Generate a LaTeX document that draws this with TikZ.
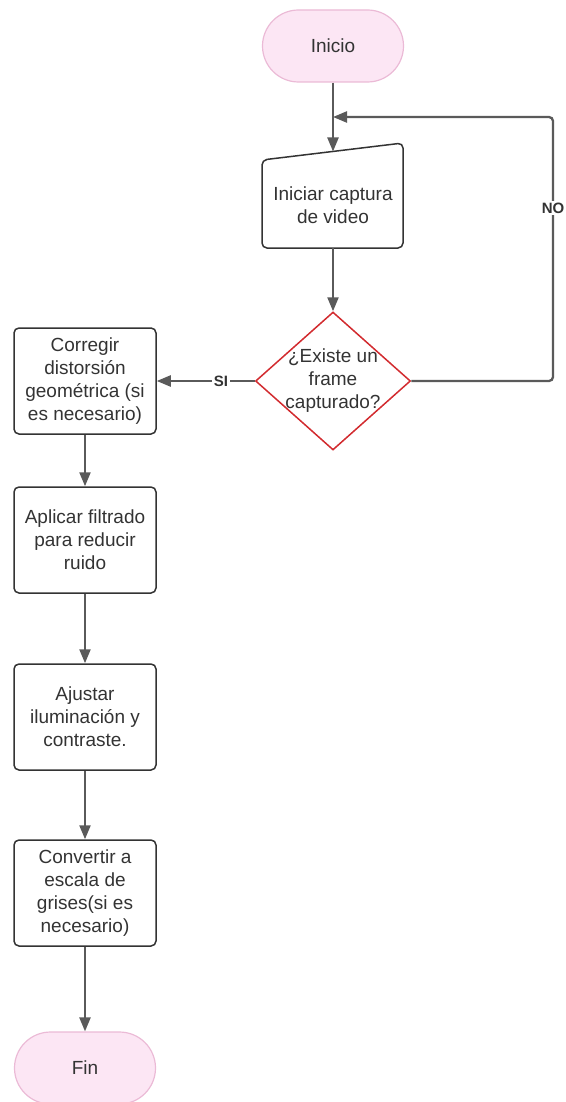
\documentclass[tikz,border=0pt]{standalone}
\usepackage{fontspec}
\setmainfont{Liberation Sans}
\usetikzlibrary{shapes.geometric,arrows.meta}
\definecolor{txtgray}{HTML}{333333}
\definecolor{linegray}{HTML}{5A5A5A}
\definecolor{termfill}{HTML}{FCE6F4}
\definecolor{termedge}{HTML}{EBBAD6}
\definecolor{decred}{HTML}{D22B2F}
\tikzset{
  every node/.style={text=txtgray, font=\fontsize{19}{23}\selectfont},
  terminal/.style={rectangle, rounded corners=36pt, fill=termfill, draw=termedge,
    line width=1.2pt, minimum width=141pt, minimum height=72pt, inner sep=0pt},
  process/.style={rectangle, rounded corners=5pt, draw=txtgray, line width=1.5pt,
    minimum width=142pt, minimum height=106pt, align=center, inner sep=0pt},
  decision/.style={diamond, draw=decred, line width=1.5pt, fill=white,
    minimum width=155pt, minimum height=138pt, inner sep=0pt},
  plain/.style={align=center, inner sep=0pt},
  conn/.style={draw=linegray, line width=2.3pt, -{Triangle[length=14pt,width=11pt]}},
  lbl/.style={font=\bfseries\fontsize{15}{18}\selectfont, fill=white, inner sep=1.5pt}
}
\begin{document}
\begin{tikzpicture}[x=1pt,y=-1pt]
  \useasboundingbox (0,0) rectangle (565,1102);

  % start terminal
  \node[terminal] (ini) at (333,46) {Inicio};

  % manual input shape (sloped top edge)
  \coordinate (tl) at (262,160);
  \coordinate (tr) at (403,143);
  \coordinate (br) at (403,248);
  \coordinate (bl) at (262,248);
  \coordinate (inptop) at (333,151.5);
  \coordinate (inpbot) at (333,248);
  \draw[draw=txtgray, line width=1.5pt, fill=white, rounded corners=5pt]
    (tl) -- (tr) -- (br) -- (bl) -- cycle;
  \node[plain] (inp) at (333,205) {Iniciar captura\\de video};

  % decision
  \node[decision] (dec) at (333,381) {};
  \node[plain] (dectxt) at (333,381) {¿Existe un\\frame\\capturado?};

  % processing steps
  \node[process] (corr) at (85,381) {Corregir\\distorsión\\geométrica (si\\es necesario)};
  \node[process] (filt) at (85,540) {Aplicar filtrado\\para reducir\\ruido};
  \node[process] (ilum) at (85,717) {Ajustar\\iluminación y\\contraste.};
  \node[process] (gris) at (85,893) {Convertir a\\escala de\\grises(si es\\necesario)};

  % end terminal
  \node[terminal] (fin) at (85,1068) {Fin};

  % main flow
  \coordinate (merge) at (333,117);
  \draw[conn] (ini.south) -- (inptop);
  \draw[conn] (inpbot) -- (dec.north);

  % NO loop back to the capture step
  \coordinate (loopa) at (553,381);
  \coordinate (loopb) at (553,117);
  \draw[conn, rounded corners=4pt] (dec.east) -- (loopa) -- (loopb) -- (merge);
  \node[lbl] (no) at (553,208) {NO};

  % SI branch
  \draw[conn] (dec.west) -- (corr.east);
  \node[lbl] (si) at (221,381) {SI};

  \draw[conn] (corr.south) -- (filt.north);
  \draw[conn] (filt.south) -- (ilum.north);
  \draw[conn] (ilum.south) -- (gris.north);
  \draw[conn] (gris.south) -- (fin.north);
\end{tikzpicture}
\end{document}
